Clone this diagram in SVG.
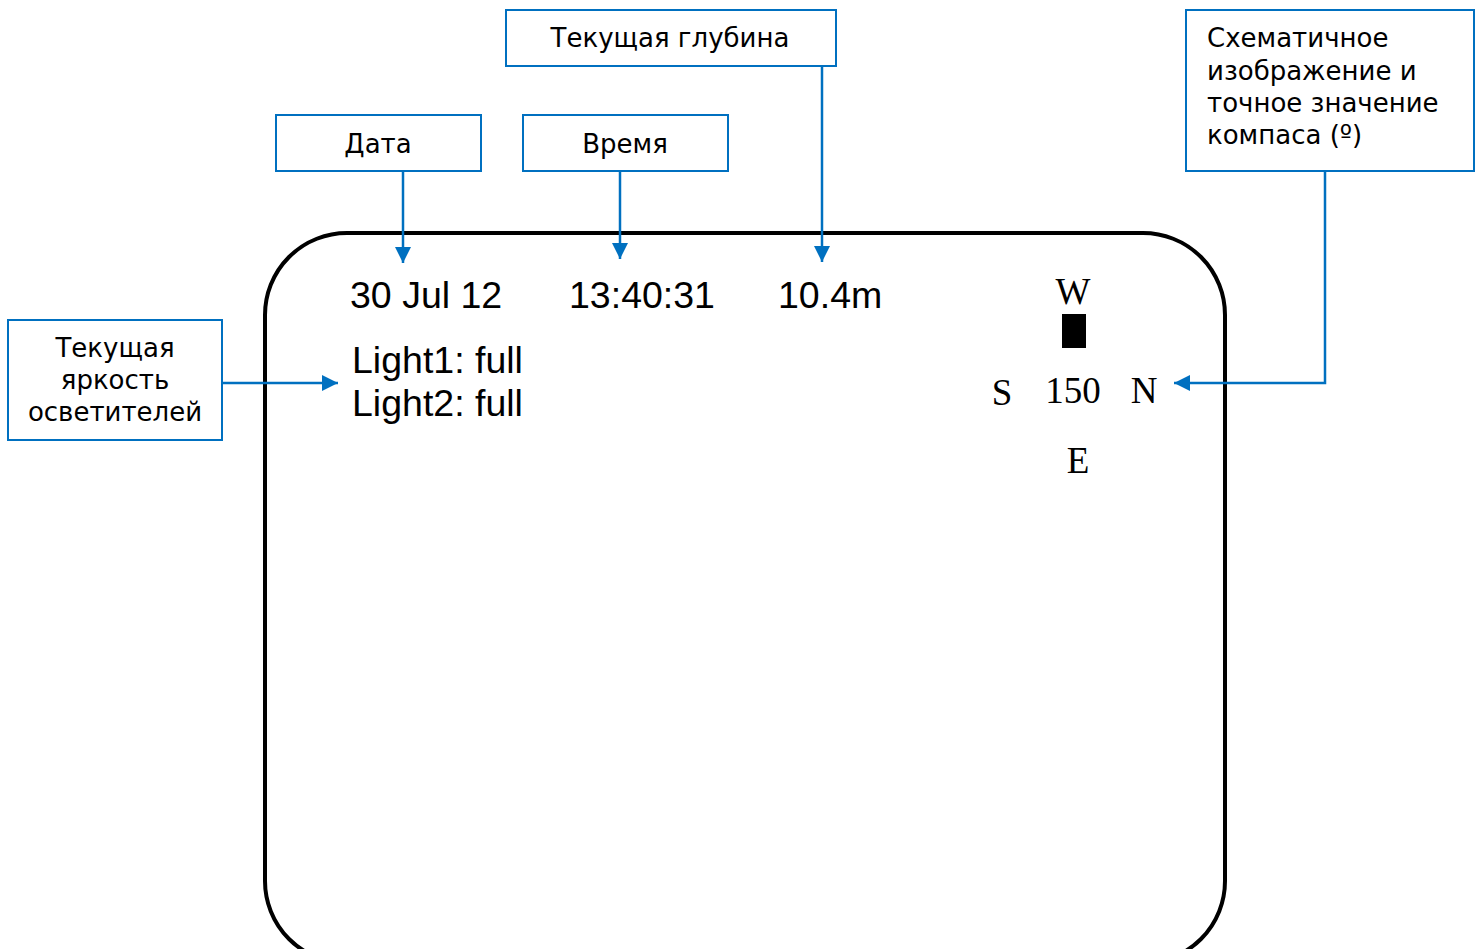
<svg xmlns="http://www.w3.org/2000/svg" width="1481" height="949" viewBox="0 0 1481 949">
  <style>
    .label { fill: #fff; stroke: #0070C0; stroke-width: 2; }
    .ltxt { font-family: "DejaVu Sans", Verdana, sans-serif; font-size: 26px; fill: #000; }
    .screen { font-family: "Liberation Sans", Arial, sans-serif; font-size: 37.5px; fill: #000; }
    .comp { font-family: "Liberation Serif", "Times New Roman", serif; font-size: 37px; fill: #000; text-anchor: middle; }
    .conn { fill: none; stroke: #0070C0; stroke-width: 2.5; }
  </style>
  <defs>
    <marker id="arrow" viewBox="0 0 10 10" refX="10" refY="5" markerWidth="16" markerHeight="16" markerUnits="userSpaceOnUse" orient="auto">
      <path d="M0,0 L10,5 L0,10 Z" fill="#0070C0"/>
    </marker>
  </defs>

  <rect width="1481" height="949" fill="#fff"/>

  <!-- display frame -->
  <g id="screen">
    <rect x="265" y="233" width="960" height="730" rx="82" ry="82" fill="none" stroke="#000" stroke-width="4"/>
    <text class="screen" x="350" y="308">30 Jul 12</text>
    <text class="screen" x="569" y="308">13:40:31</text>
    <text class="screen" x="778" y="308">10.4m</text>
    <text class="screen" x="352" y="373">Light1: full</text>
    <text class="screen" x="352" y="416">Light2: full</text>
  </g>

  <!-- compass -->
  <g id="compass">
    <text class="comp" x="1073" y="304">W</text>
    <rect x="1062" y="314" width="24" height="34" fill="#000"/>
    <text class="comp" x="1002" y="405">S</text>
    <text class="comp" x="1073" y="403">150</text>
    <text class="comp" x="1144" y="403">N</text>
    <text class="comp" x="1078" y="473">E</text>
  </g>

  <!-- callout boxes -->
  <g id="label-depth">
    <rect class="label" x="506" y="10" width="330" height="56"/>
    <text class="ltxt" x="670" y="47" text-anchor="middle">Текущая глубина</text>
  </g>
  <g id="label-date">
    <rect class="label" x="276" y="115" width="205" height="56"/>
    <text class="ltxt" x="378" y="153" text-anchor="middle">Дата</text>
  </g>
  <g id="label-time">
    <rect class="label" x="523" y="115" width="205" height="56"/>
    <text class="ltxt" x="625" y="153" text-anchor="middle">Время</text>
  </g>
  <g id="label-compass">
    <rect class="label" x="1186" y="10" width="288" height="161"/>
    <text class="ltxt" x="1207" y="47">Схематичное</text>
    <text class="ltxt" x="1207" y="80">изображение и</text>
    <text class="ltxt" x="1207" y="112">точное значение</text>
    <text class="ltxt" x="1207" y="144">компаса (º)</text>
  </g>
  <g id="label-lights">
    <rect class="label" x="8" y="320" width="214" height="120"/>
    <text class="ltxt" x="115" y="357" text-anchor="middle">Текущая</text>
    <text class="ltxt" x="115" y="389" text-anchor="middle">яркость</text>
    <text class="ltxt" x="115" y="421" text-anchor="middle">осветителей</text>
  </g>

  <!-- connectors -->
  <g id="connectors">
    <path class="conn" d="M403,171 V263" marker-end="url(#arrow)"/>
    <path class="conn" d="M620,171 V259" marker-end="url(#arrow)"/>
    <path class="conn" d="M822,66 V262" marker-end="url(#arrow)"/>
    <path class="conn" d="M1325,171 V383 H1174" marker-end="url(#arrow)"/>
    <path class="conn" d="M222,383 H338" marker-end="url(#arrow)"/>
  </g>
</svg>
